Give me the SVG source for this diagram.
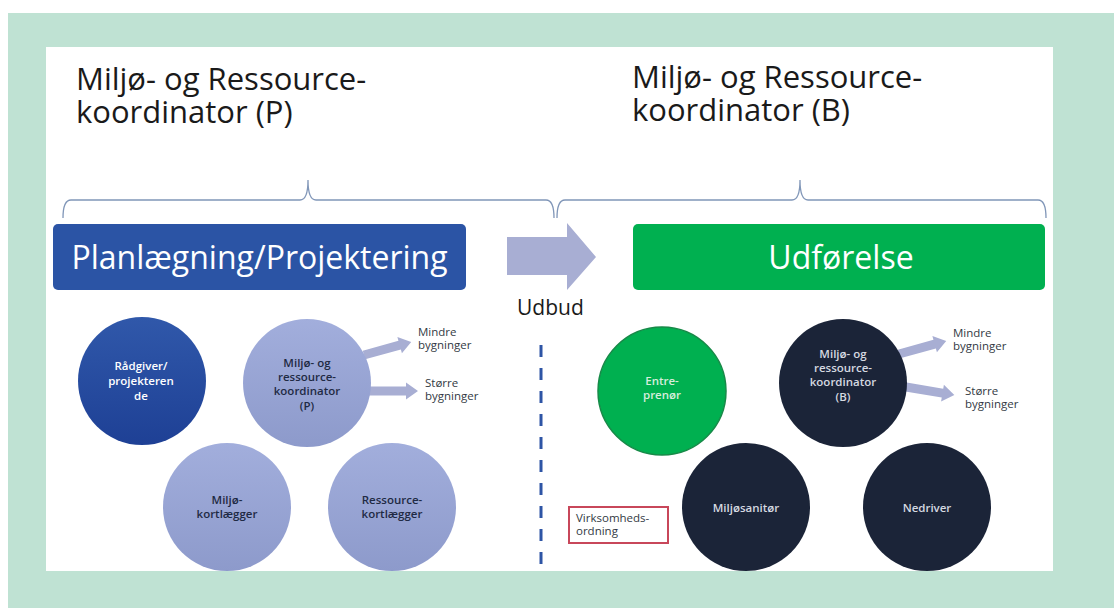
<svg xmlns="http://www.w3.org/2000/svg" width="1114" height="608" viewBox="0 0 1114 608">
<defs>
<style>
text{font-family:"Open Sans","Noto Sans","Liberation Sans",sans-serif;}
.title{font-size:31px;fill:#1a1a1a;}
.phase{font-size:32px;fill:#ffffff;text-anchor:middle;}
.brace{fill:none;stroke:#8096b8;stroke-width:1.3;}
.light{fill:url(#gLight);}
.dark{fill:#1b2438;}
.ct{font-size:11.5px;font-weight:600;text-anchor:middle;}
.ctd{fill:#1f2a44;}
.ctl{fill:#d5d9e0;}
.lab{font-size:11.5px;fill:#333a44;}
.barrow{fill:#a8aed3;}
</style>
<linearGradient id="gLight" x1="0" y1="0" x2="0" y2="1">
<stop offset="0" stop-color="#a2aedc"/>
<stop offset="1" stop-color="#8d9acb"/>
</linearGradient>
<linearGradient id="gBlue" x1="0" y1="0" x2="0" y2="1">
<stop offset="0" stop-color="#3058aa"/>
<stop offset="1" stop-color="#1e4095"/>
</linearGradient>
</defs>
<rect x="0" y="0" width="1114" height="608" fill="#ffffff"/>
<rect x="8" y="13" width="1106" height="595" fill="#bfe2d3"/>
<rect x="46" y="47" width="1007" height="524" fill="#ffffff"/>

<g id="title-p">
<text class="title"><tspan x="76" y="90">Miljø- og Ressource-</tspan><tspan x="76" y="123">koordinator (P)</tspan></text>
</g>
<g id="title-b">
<text class="title"><tspan x="632" y="88">Miljø- og Ressource-</tspan><tspan x="632" y="121">koordinator (B)</tspan></text>
</g>

<g id="braces">
<path class="brace" d="M63,218 Q63,200 71,200 L300,200 Q308,200 308,180 Q308,200 316,200 L546,200 Q554,200 554,218"/>
<path class="brace" d="M557,218 Q557,200 565,200 L792,200 Q800,200 800,180 Q800,200 808,200 L1038,200 Q1046,200 1046,218"/>
</g>

<g id="phase-planning">
<rect x="53" y="224" width="413" height="66" rx="5" fill="#2b54a5"/>
<text class="phase" x="259.5" y="269">Planlægning/Projektering</text>
</g>
<g id="phase-execution">
<rect x="633" y="224" width="412" height="66" rx="5" fill="#00b050"/>
<text class="phase" x="841" y="269">Udførelse</text>
</g>

<g id="connectors">
<polygon id="arrow-udbud" class="barrow" points="507,237 567,237 567,223 596,257 567,290 567,275 507,275"/>
<g transform="translate(364,355) rotate(-15.5)"><polygon class="barrow" points="0,-4.5 37,-4.5 37,-8.5 49,0 37,8.5 37,4.5 0,4.5"/></g>
<g transform="translate(368,391)"><polygon class="barrow" points="0,-4.5 38,-4.5 38,-8.5 50,0 38,8.5 38,4.5 0,4.5"/></g>
<g transform="translate(899,354) rotate(-15.5)"><polygon class="barrow" points="0,-4.5 37,-4.5 37,-8.5 49,0 37,8.5 37,4.5 0,4.5"/></g>
<g transform="translate(906,387) rotate(9.5)"><polygon class="barrow" points="0,-4.5 37,-4.5 37,-8.5 49,0 37,8.5 37,4.5 0,4.5"/></g>
<line x1="541" y1="345" x2="541" y2="571" stroke="#2e55a5" stroke-width="3" stroke-dasharray="12 11"/>
</g>

<g id="udbud-label">
<text x="517" y="315" font-size="21" fill="#1a1a1a">Udbud</text>
</g>

<g id="node-raadgiver">
<circle cx="142" cy="381" r="64" fill="url(#gBlue)"/>
<text class="ct" fill="#ffffff" x="141" y="370">Rådgiver/</text>
<text class="ct" fill="#ffffff" x="141" y="385">projekteren</text>
<text class="ct" fill="#ffffff" x="141" y="400">de</text>
</g>
<g id="node-mrk-p">
<circle class="light" cx="307" cy="383" r="64"/>
<text class="ct ctd" x="307" y="367">Miljø- og</text>
<text class="ct ctd" x="307" y="381">ressource-</text>
<text class="ct ctd" x="307" y="395">koordinator</text>
<text class="ct ctd" x="307" y="410">(P)</text>
</g>
<g id="label-p-mindre">
<text class="lab" x="418" y="336">Mindre</text>
<text class="lab" x="418" y="349">bygninger</text>
</g>
<g id="label-p-stoerre">
<text class="lab" x="425" y="387">Større</text>
<text class="lab" x="425" y="400">bygninger</text>
</g>
<g id="node-miljoekortlaegger">
<circle class="light" cx="227" cy="507" r="64"/>
<text class="ct ctd" x="227" y="504">Miljø-</text>
<text class="ct ctd" x="227" y="518">kortlægger</text>
</g>
<g id="node-ressourcekortlaegger">
<circle class="light" cx="392" cy="507" r="64"/>
<text class="ct ctd" x="392" y="504">Ressource-</text>
<text class="ct ctd" x="392" y="518">kortlægger</text>
</g>

<g id="node-entreprenoer">
<circle cx="662" cy="391" r="64" fill="#00b050" stroke="#178a48" stroke-width="1.5"/>
<text class="ct" fill="#d6eddc" x="662" y="385">Entre-</text>
<text class="ct" fill="#d6eddc" x="662" y="399">prenør</text>
</g>
<g id="node-mrk-b">
<circle class="dark" cx="843" cy="383" r="64"/>
<text class="ct ctl" x="843" y="358">Miljø- og</text>
<text class="ct ctl" x="843" y="372">ressource-</text>
<text class="ct ctl" x="843" y="386">koordinator</text>
<text class="ct ctl" x="843" y="401">(B)</text>
</g>
<g id="label-b-mindre">
<text class="lab" x="953" y="337">Mindre</text>
<text class="lab" x="953" y="350">bygninger</text>
</g>
<g id="label-b-stoerre">
<text class="lab" x="965" y="395">Større</text>
<text class="lab" x="965" y="408">bygninger</text>
</g>
<g id="node-miljoesanitoer">
<circle class="dark" cx="746" cy="507" r="64"/>
<text class="ct ctl" x="746" y="512" font-size="12.5">Miljøsanitør</text>
</g>
<g id="node-nedriver">
<circle class="dark" cx="927" cy="507" r="64"/>
<text class="ct ctl" x="927" y="512" font-size="12.5">Nedriver</text>
</g>
<g id="node-virksomhedsordning">
<rect x="569" y="507" width="99" height="36" fill="#ffffff" stroke="#c8475a" stroke-width="2"/>
<text class="lab" x="576" y="522">Virksomheds-</text>
<text class="lab" x="576" y="535">ordning</text>
</g>
</svg>
